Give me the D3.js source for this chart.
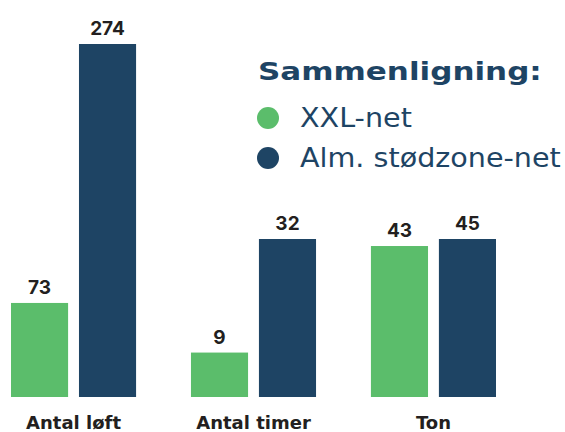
<!DOCTYPE html>
<html>
<head>
<meta charset="utf-8">
<script src="https://cdn.jsdelivr.net/npm/d3@7"></script>
<style>
  body { margin: 0; background: #fff; }
  svg { display: block; font-family: Inter, "Noto Sans", sans-serif; }
</style>
</head>
<body>
<svg width="565" height="432"></svg>
<script>
// data
var categories = ["Antal løft", "Antal timer", "Ton"];
var xxlNet = [73, 9, 43];
var almNet = [274, 32, 45];
var seriesNames = ["XXL-net", "Alm. stødzone-net"];
var seriesColors = ["#5bbd6b", "#1e4464"];

var svg = d3.select("svg"),
    width = +svg.attr("width"),
    height = +svg.attr("height");

var baseline = 397;
// each group has its own scale in the original graphic
var groupTop = [44, 239, 239];

var x0 = d3.scaleBand()
    .domain(categories)
    .range([11, 496])
    .paddingInner(0.305);

var x1 = d3.scaleBand()
    .domain([0, 1])
    .range([0, x0.bandwidth()])
    .paddingInner(0.16);

var groups = categories.map(function(c, i) {
  var vals = [xxlNet[i], almNet[i]];
  var y = d3.scaleLinear()
      .domain([0, d3.max(vals)])
      .range([baseline, groupTop[i]]);
  return { name: c, vals: vals, y: y };
});

var g = svg.append("g")
  .selectAll("g")
  .data(groups)
  .enter().append("g")
    .attr("transform", function(d) { return "translate(" + x0(d.name) + ",0)"; });

g.selectAll("rect")
  .data(function(d) { return d.vals.map(function(v, k) { return { v: v, k: k, y: d.y }; }); })
  .enter().append("rect")
    .attr("x", function(d) { return x1(d.k); })
    .attr("width", x1.bandwidth())
    .attr("y", function(d) { return d.y(d.v); })
    .attr("height", function(d) { return baseline - d.y(d.v); })
    .attr("fill", function(d) { return seriesColors[d.k]; });

g.selectAll("text.val")
  .data(function(d) { return d.vals.map(function(v, k) { return { v: v, k: k, y: d.y }; }); })
  .enter().append("text")
    .attr("class", "val")
    .attr("x", function(d) { return x1(d.k) + x1.bandwidth() / 2; })
    .attr("y", function(d) { return d.y(d.v) - 9; })
    .attr("text-anchor", "middle")
    .attr("font-size", 19)
    .attr("font-weight", 700)
    .attr("fill", "#231f20")
    .text(function(d) { return d.v; });

g.append("text")
  .attr("x", x0.bandwidth() / 2)
  .attr("y", 429)
  .attr("text-anchor", "middle")
  .attr("font-family", "DejaVu Sans")
  .attr("font-size", 18)
  .attr("font-weight", 700)
  .attr("fill", "#231f20")
  .text(function(d) { return d.name; });

// legend (the original face is wider, so stretch the text a bit)
function stretch(sel, f) {
  sel.each(function() {
    var w = this.getComputedTextLength();
    d3.select(this).attr("textLength", w * f).attr("lengthAdjust", "spacingAndGlyphs");
  });
}

var legend = svg.append("g").attr("font-family", "DejaVu Sans");
legend.append("text")
  .attr("x", 258)
  .attr("y", 80)
  .attr("font-size", 25)
  .attr("font-weight", 700)
  .attr("fill", "#1e4464")
  .text("Sammenligning:")
  .call(stretch, 1.24);

var item = legend.selectAll("g.item")
  .data(seriesNames)
  .enter().append("g")
    .attr("class", "item")
    .attr("transform", function(d, i) { return "translate(0," + (i * 40) + ")"; });

item.append("circle")
  .attr("cx", 268)
  .attr("cy", 118)
  .attr("r", 11)
  .attr("fill", function(d, i) { return seriesColors[i]; });

item.append("text")
  .attr("x", 300)
  .attr("y", 127)
  .attr("font-size", 26)
  .attr("fill", "#1e4464")
  .text(function(d) { return d; })
  .call(stretch, 1.1);
</script>
</body>
</html>
